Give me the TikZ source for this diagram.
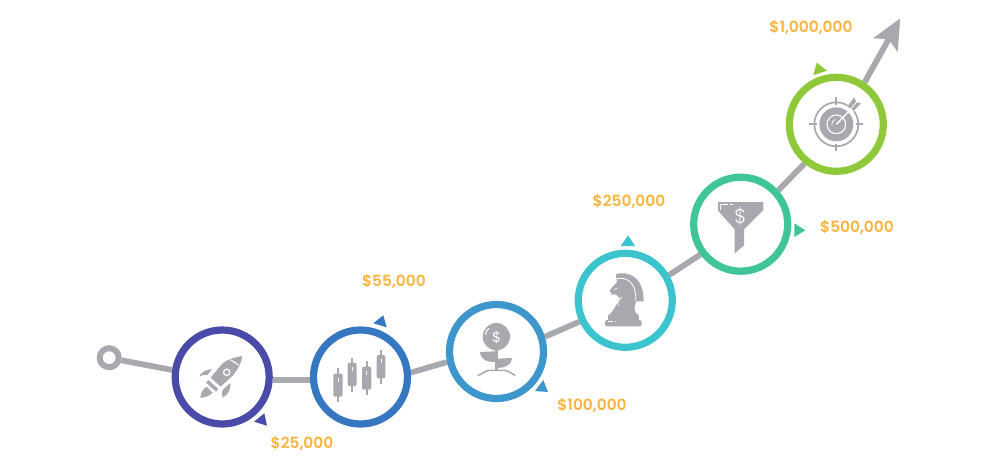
\documentclass[tikz,border=0pt]{standalone}
\usepackage{fontspec}
\setmainfont{Poppins}
\newfontfamily\labfont{Poppins SemiBold}
\newfontfamily\thinfont{Poppins Light}
\usetikzlibrary{arrows.meta,backgrounds}
\definecolor{gy}{HTML}{A8A9AE}
\definecolor{lab}{HTML}{F9B53F}
\definecolor{ca}{HTML}{4A4BA8}
\definecolor{cb}{HTML}{3677C2}
\definecolor{cc}{HTML}{3E97CC}
\definecolor{cd}{HTML}{3CC4CE}
\definecolor{ce}{HTML}{3FC596}
\definecolor{cf}{HTML}{8FC93A}
\tikzset{
  ringnode/.style={circle,draw=#1,line width=7.2pt,fill=white,minimum size=94pt,inner sep=0pt},
  startnode/.style={circle,draw=gy,line width=6pt,fill=white,minimum size=19pt,inner sep=0pt},
  amount/.style={text=lab,font=\labfont\fontsize{15.4}{18}\selectfont,inner sep=0pt},
  linkline/.style={draw=gy,line width=5.8pt},
  icon/.style={fill=gy,draw=none},
  slit/.style={draw=white,line width=1pt},
  iconline/.style={draw=gy,line width=1.5pt},
  zoomgrid/.style={x=0.33333pt,y=-0.33333pt}
}
\begin{document}
\begin{tikzpicture}[x=1pt,y=-1pt]
\useasboundingbox (0,0) rectangle (1000,460);
\node[startnode] (s) at (109.2,357.7) {};
\node[ringnode=ca] (c1) at (222.2,377) {};
\node[ringnode=cb] (c2) at (360.5,377) {};
\node[ringnode=cc] (c3) at (496.5,351.5) {};
\node[ringnode=cd] (c4) at (625.3,300.3) {};
\node[ringnode=ce] (c5) at (740.7,224.2) {};
\node[ringnode=cf] (c6) at (836.3,124.3) {};
\coordinate (tip) at (900.3,18.3);
\begin{scope}[on background layer]
\fill[white] (0,0) rectangle (1000,460);
\draw[linkline] (s.-12.9) -- (c1.172.8);
\draw[linkline] (c1.-3.4) -- (c2.183.4);
\draw[linkline] (c2.5.4) -- (c3.192.7);
\draw[linkline] (c3.17) -- (c4.205.3);
\draw[linkline] (c4.30.2) -- (c5.217);
\draw[linkline] (c5.42.3) -- (c6.231.2);
\draw[linkline,-{Stealth[length=30pt,width=27pt,inset=6pt]}] (c6.56) -- (tip);
\end{scope}
% markers
\fill[ca] (254,421.7) -- (264.3,413.3) -- (267,425.7) -- cycle;
\fill[cb] (373.3,323.3) -- (383.3,315.3) -- (386.7,327.3) -- cycle;
\fill[cc] (535,391) -- (543.3,380) -- (548,392) -- cycle;
\fill[cd] (620.7,246) -- (628,235.3) -- (635,246) -- cycle;
\fill[ce] (794.3,223.3) -- (805.3,230.3) -- (794.3,237) -- cycle;
\fill[cf] (813.3,75.3) -- (816.7,62.7) -- (827,70.7) -- cycle;
% labels
\node[amount] (l1) at (302,443.5) {\$25,000};
\node[amount] (l2) at (394,281.5) {\$55,000};
\node[amount] (l3) at (592,405.5) {\$100,000};
\node[amount] (l4) at (629,201.5) {\$250,000};
\node[amount] (l5) at (857,227.5) {\$500,000};
\node[amount] (l6) at (811,27.5) {\$1,000,000};
% rocket
\begin{scope}[shift={(190,345)},zoomgrid]
\fill[icon] (157,33) .. controls (125,38) and (105,48) .. (95,58) -- (62,98) -- (92,125) -- (128,92) .. controls (145,72) and (154,55) .. (157,33) -- cycle;
\draw[slit] (121,44) -- (146,60);
\fill[white] (110,82) circle (11.5);
\fill[icon] (110,82) circle (7);
\fill[icon] (55,105) -- (85,132) -- (78,140) -- (48,113) -- cycle;
\fill[icon] (28,95) .. controls (32,82) and (48,74) .. (66,72) -- (52,90) .. controls (44,88) and (36,90) .. (28,95) -- cycle;
\fill[icon] (98,158) .. controls (94,150) and (94,140) .. (101,132) -- (121,114) .. controls (124,135) and (112,150) .. (98,158) -- cycle;
\fill[icon] (31,159) .. controls (32,145) and (38,132) .. (50,125) -- (68,143) .. controls (60,152) and (46,157) .. (31,159) -- cycle;
\end{scope}
% candles
\begin{scope}[shift={(328,345)},zoomgrid]
\foreach \xa/\xb/\ya/\yb/\yc/\yd in {16/44/86/155/70/172, 59/86/53/123/38/140, 102/130/65/134/49/150, 146/172/30/100/14/118}{
  \fill[icon] ({(\xa+\xb)/2-2.5},\yc) rectangle ({(\xa+\xb)/2+2.5},\yd);
  \fill[icon,rounded corners=2pt] (\xa,\ya) rectangle (\xb,\yb);
  \draw[slit] ({(\xa+\xb)/2},\ya+12) -- ({(\xa+\xb)/2},\ya+24);
}
\end{scope}
% plant
\begin{scope}[shift={(465,318)},zoomgrid]
\fill[icon] (94,56) circle (41);
\draw[slit] (61,50) .. controls (62,42) and (66,35) .. (72,31);
\node[text=white,font=\fontsize{14.5}{15}\selectfont,inner sep=0pt] (d1) at (95,58) {\$};
\fill[icon] (91,95) rectangle (98,157);
\fill[icon] (45,102) -- (91,100) -- (91,132) .. controls (68,132) and (48,128) .. (45,102) -- cycle;
\fill[icon] (98,122) -- (141,120) .. controls (141,140) and (120,150) .. (98,150) -- cycle;
\draw[iconline] (38,173) .. controls (50,170) and (58,158) .. (72,157) -- (118,157) .. controls (132,158) and (140,168) .. (151,172);
\end{scope}
% knight
\begin{scope}[shift={(593,268)},zoomgrid]
\fill[icon] (48,141) .. controls (62,128) and (70,112) .. (80,90) -- (70,80) -- (57,80) -- (50,68) .. controls (56,58) and (66,50) .. (72,42) -- (68,18) .. controls (110,8) and (152,28) .. (152,100) -- (130,100) .. controls (122,115) and (122,130) .. (135,141) -- cycle;
\draw[slit,line width=.8pt] (72,32) .. controls (105,25) and (132,50) .. (128,98);
\draw[slit,line width=.8pt] (63,64) -- (72,62);
\draw[slit,line width=.8pt] (76,115) .. controls (72,105) and (78,95) .. (86,88);
\fill[icon,rounded corners=1.5pt] (36,156) rectangle (146,175);
\fill[icon] (45,141) rectangle (137,158);
\draw[slit] (45,159) -- (61,159);
\fill[white] (66,158.5) rectangle (70,159.5);
\end{scope}
% funnel
\begin{scope}[shift={(708,192)},zoomgrid]
\fill[icon] (30,30) -- (166,30) -- (166,54) -- (108,112) -- (108,160) -- (80,184) -- (80,112) -- (30,56) -- cycle;
\draw[white,line width=1.2pt] (38,55) -- (38,37) -- (60,37);
\draw[slit,line width=1.2pt] (67,37) -- (74,37);
\node[text=white,font=\thinfont\fontsize{20}{22}\selectfont,inner sep=0pt] (d2) at (97,74) {\$};
\end{scope}
% target
\begin{scope}[shift={(804,92)},zoomgrid]
\draw[iconline,line width=1.7pt] (97,97) circle (66);
\foreach \a in {0,90,180,270}{
  \draw[iconline,line width=1.7pt] (97,97) ++(\a:58) -- ++(\a:23);
}
\fill[icon] (97,97) circle (51);
\draw[white,line width=1.1pt] (97,97) circle (28);
\draw[slit,line width=.8pt] (83,98) .. controls (84,90) and (88,85) .. (93,82);
\draw[white,line width=5pt] (137,57) -- (182,12);
\draw[white,line width=1.4pt] (97,97) -- (142,50);
\fill[icon,draw=white,line width=0.5pt] (128,45) -- (150,14) -- (158,30) -- (173,33) -- (150,58) -- (140,50) -- cycle;
\draw[white,line width=.9pt] (140,50) -- (160,28);
\end{scope}
\end{tikzpicture}
\end{document}
